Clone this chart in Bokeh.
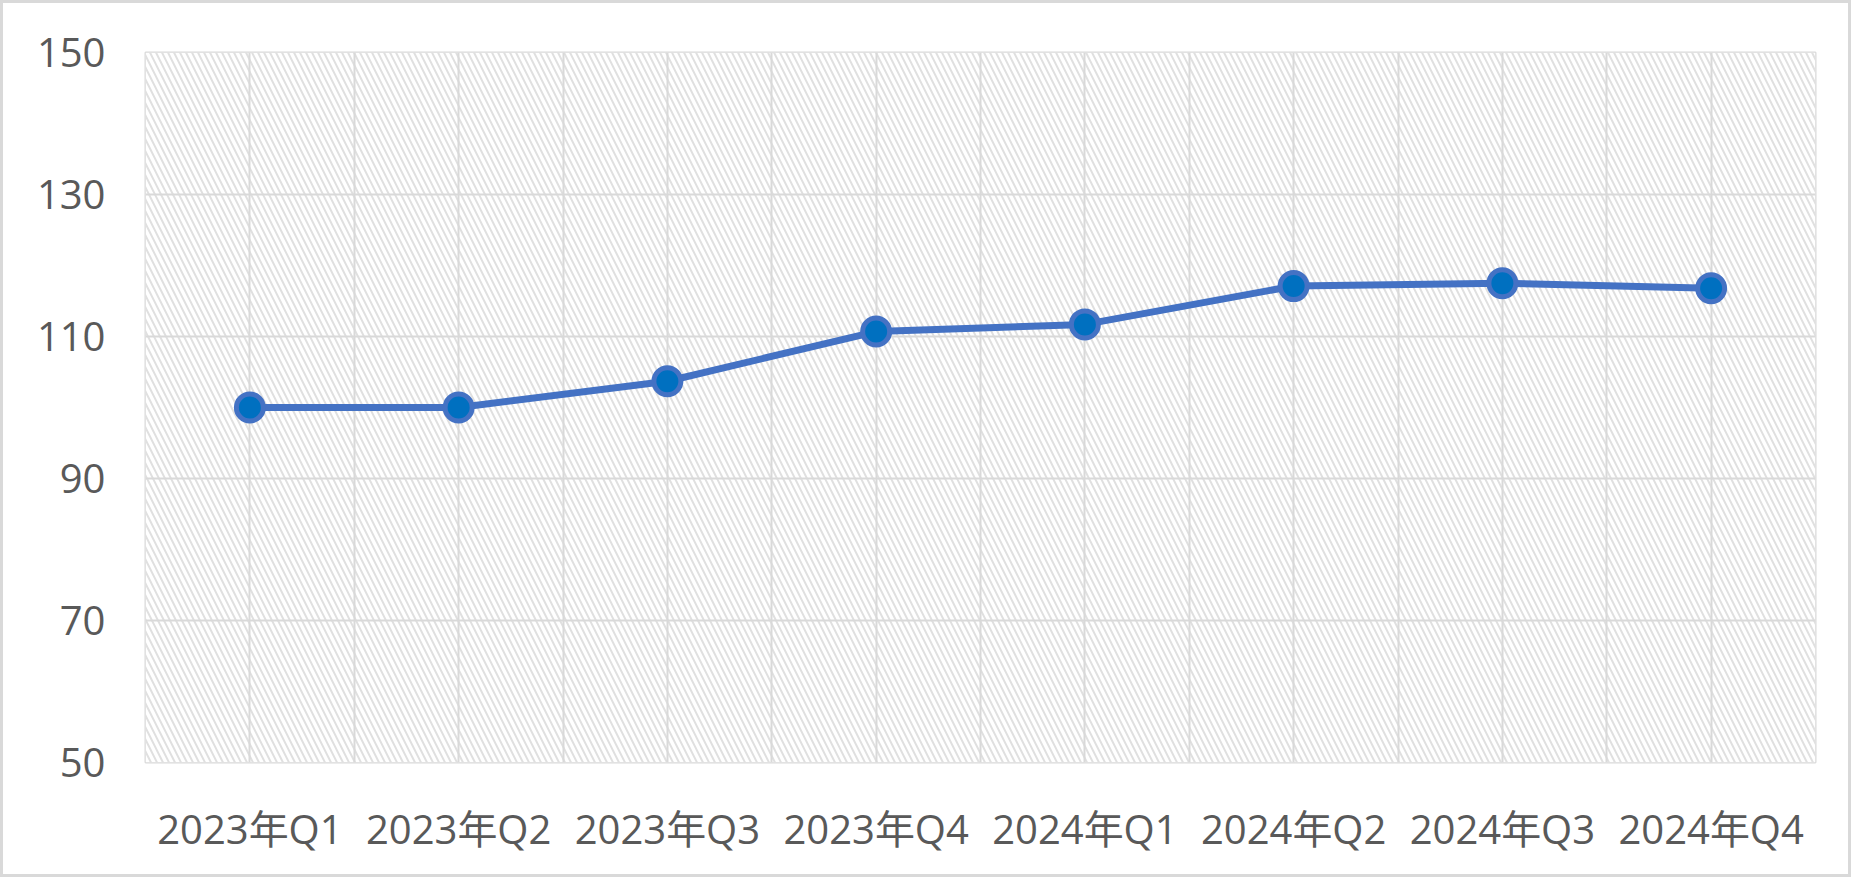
from bokeh.plotting import figure
from bokeh.models import FixedTicker, BoxAnnotation, FactorRange, Range1d, ColumnDataSource
from bokeh.embed import file_html
from bokeh.resources import INLINE

categories = ["2023年Q1", "2023年Q2", "2023年Q3", "2023年Q4",
              "2024年Q1", "2024年Q2", "2024年Q3", "2024年Q4"]
values = [100.0, 100.0, 103.7, 110.7, 111.7, 117.1, 117.5, 116.8]
y_ticks = [50, 70, 90, 110, 130, 150]
y_min, y_max = 50, 150

FONT = "'Open Sans', 'Noto Sans CJK SC'"
LABEL_COLOR = "#595959"
GRID_COLOR = "#d9d9d9"

src = ColumnDataSource(data=dict(cat=categories, val=values))

W, H = 1851, 877
p = figure(
    x_range=FactorRange(factors=categories, range_padding=0),
    y_range=Range1d(y_min, y_max),
    width=W, height=H,
    output_backend="svg", toolbar_location=None,
    min_border_left=145, min_border_right=36,
    min_border_top=52, min_border_bottom=115,
)
# transparent canvas border area so the host's inset shadow (chart border) shows
p.border_fill_alpha = 0
p.styles = {"box-shadow": "inset 0 0 0 3px #d9d9d9", "background-color": "white"}

# hatched plot area background
hatch = BoxAnnotation(fill_color="white", fill_alpha=1.0,
                      hatch_pattern="\\", hatch_color="#e0e0e0",
                      hatch_scale=12, hatch_weight=2, hatch_alpha=1.0,
                      line_color=None, level="image")
p.add_layout(hatch)

p.outline_line_color = "#d9d9d9"
p.outline_line_width = 2

# grids
half_steps = [i * 0.5 for i in range(2 * len(categories) + 1)]
p.xgrid.ticker = FixedTicker(ticks=half_steps)
p.xgrid.grid_line_color = GRID_COLOR
p.xgrid.grid_line_width = 2
p.ygrid.ticker = FixedTicker(ticks=y_ticks)
p.ygrid.grid_line_color = GRID_COLOR
p.ygrid.grid_line_width = 2

# axes
for ax in (p.xaxis, p.yaxis):
    ax.axis_line_color = None
    ax.major_tick_line_color = None
    ax.minor_tick_line_color = None
    ax.major_tick_out = 0
    ax.major_tick_in = 0
    ax.major_label_text_font = FONT
    ax.major_label_text_font_size = "40px"
    ax.major_label_text_color = LABEL_COLOR
p.yaxis.ticker = FixedTicker(ticks=y_ticks)
p.yaxis.major_label_standoff = 40
p.xaxis.major_label_standoff = 38

p.line(x="cat", y="val", source=src, line_color="#4472C4", line_width=7,
       line_join="round", line_cap="round")
p.scatter(x="cat", y="val", source=src, marker="circle", size=27,
          fill_color="#0070C0", line_color="#4472C4", line_width=5)

open("out.html", "w").write(file_html(p, INLINE))
